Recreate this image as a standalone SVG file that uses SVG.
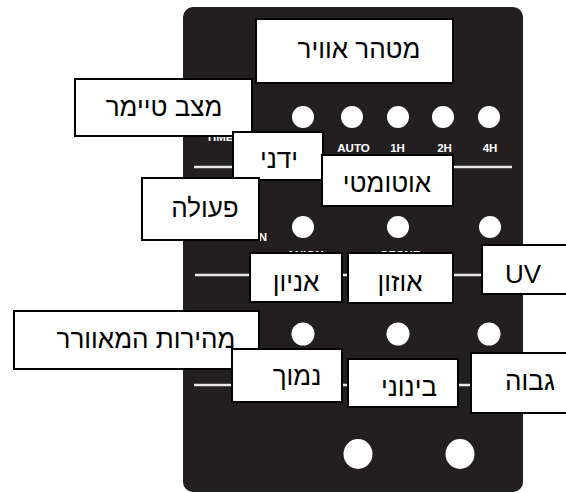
<svg xmlns="http://www.w3.org/2000/svg" width="566" height="493" viewBox="0 0 566 493">
<style>
.box{fill:#fff;stroke:#000;stroke-width:2}
.lbl{font-family:"Liberation Sans","DejaVu Sans","Noto Sans",sans-serif;font-size:26px;fill:#000;text-anchor:middle}
.mk{font-family:"Liberation Sans","DejaVu Sans",sans-serif;font-size:11.5px;font-weight:bold;fill:#fff;text-anchor:middle}
.ln{stroke:#e8e8e8;stroke-width:2.5;fill:none}
.dot{fill:#fff}
</style>
<g id="panel">
<rect x="183" y="7" width="340" height="485" rx="10" fill="#231f20"/>
<line class="ln" x1="194" y1="167" x2="512" y2="167"/>
<line class="ln" x1="195" y1="275" x2="512" y2="275"/>
<line class="ln" x1="194" y1="385" x2="512" y2="385"/>
<circle class="dot" cx="303" cy="117" r="11"/>
<circle class="dot" cx="352" cy="117" r="11"/>
<circle class="dot" cx="398" cy="117" r="11"/>
<circle class="dot" cx="443" cy="117" r="11"/>
<circle class="dot" cx="489" cy="117" r="11"/>
<circle class="dot" cx="303" cy="227" r="11"/>
<circle class="dot" cx="398" cy="227" r="11"/>
<circle class="dot" cx="490" cy="227" r="11"/>
<circle class="dot" cx="303" cy="334" r="11.5"/>
<circle class="dot" cx="398" cy="334" r="11.5"/>
<circle class="dot" cx="489" cy="334" r="11.5"/>
<ellipse class="dot" cx="358" cy="454" rx="14.5" ry="15"/>
<ellipse class="dot" cx="460" cy="454" rx="14.5" ry="15"/>
<text class="mk" x="353.5" y="152">AUTO</text>
<text class="mk" x="397.5" y="152">1H</text>
<text class="mk" x="444.5" y="152">2H</text>
<text class="mk" x="490" y="152">4H</text>
<text class="mk" x="206" y="140.5" style="text-anchor:start">TIMER</text>
<text class="mk" x="267" y="241" style="text-anchor:end">FUNCTION</text>
<text class="mk" x="305" y="258.8">ANION</text>
<text class="mk" x="400" y="258.8">OZONE</text>
<text class="mk" x="490" y="258.8">UV</text>
</g>
<g id="title"><rect class="box" x="256" y="19" width="197" height="64"/><text class="lbl" x="359" y="58">מטהר אוויר</text></g>
<g id="timer-mode"><rect class="box" x="75" y="79" width="177" height="57"/><text class="lbl" x="164" y="116">מצב טיימר</text></g>
<g id="manual"><rect class="box" x="233" y="132" width="90" height="48"/><text class="lbl" x="279" y="168">ידני</text></g>
<g id="auto"><rect class="box" x="322" y="155" width="131" height="51"/><text class="lbl" x="387" y="192">אוטומטי</text></g>
<g id="function"><rect class="box" x="142" y="178" width="117" height="62"/><text class="lbl" x="205" y="217">פעולה</text></g>
<g id="anion"><rect class="box" x="250" y="253" width="92" height="49"/><text class="lbl" x="296" y="291">אניון</text></g>
<g id="ozone"><rect class="box" x="348" y="253" width="105" height="50"/><text class="lbl" x="400" y="291">אוזון</text></g>
<g id="uv"><rect class="box" x="482" y="245" width="90" height="49"/><text class="lbl" x="523" y="283">UV</text></g>
<g id="fan-speed"><rect class="box" x="14" y="311" width="245" height="58"/><text class="lbl" x="146" y="348">מהירות המאוורר</text></g>
<g id="low"><rect class="box" x="232" y="349" width="110" height="53"/><text class="lbl" x="297" y="385">נמוך</text></g>
<g id="medium"><rect class="box" x="348" y="359" width="110" height="48"/><text class="lbl" x="409" y="396">בינוני</text></g>
<g id="high"><rect class="box" x="471" y="353" width="100" height="60"/><text class="lbl" x="530" y="390">גבוה</text></g>
<g id="connectors"></g>
</svg>
